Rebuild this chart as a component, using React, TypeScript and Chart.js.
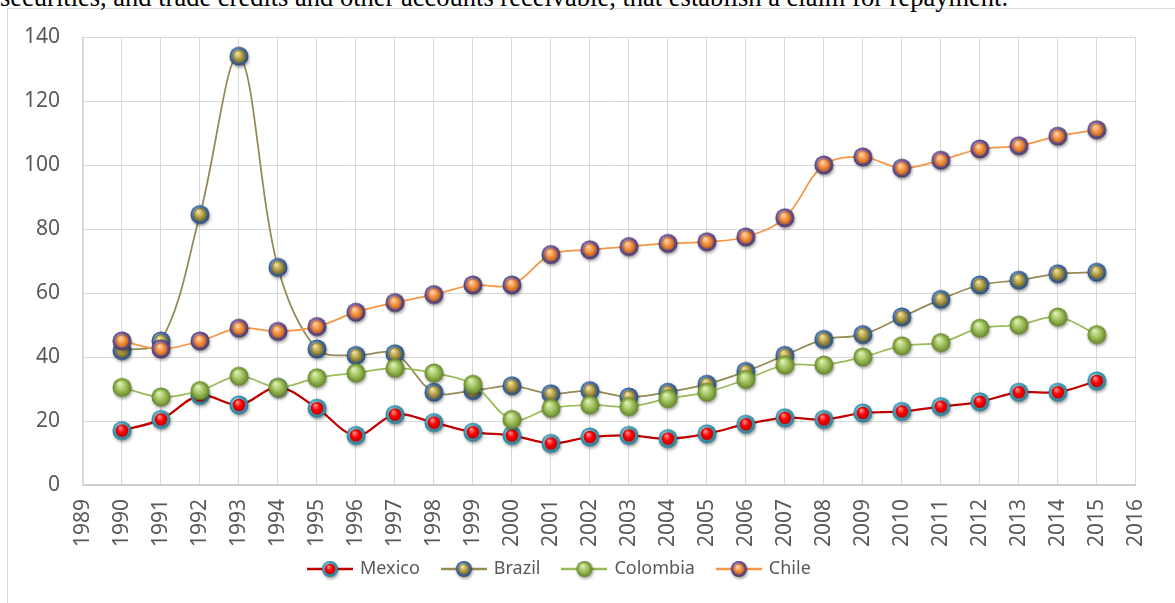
import React, { useEffect, useRef } from 'react';
import { Chart, registerables } from 'chart.js';

Chart.register(...registerables);

const years = [1990, 1991, 1992, 1993, 1994, 1995, 1996, 1997, 1998, 1999, 2000, 2001, 2002, 2003, 2004, 2005, 2006, 2007, 2008, 2009, 2010, 2011, 2012, 2013, 2014, 2015];
const mexico = [17, 20.5, 28, 25, 30.5, 24, 15.5, 22, 19.5, 16.5, 15.5, 13, 15, 15.5, 14.5, 16, 19, 21, 20.5, 22.5, 23, 24.5, 26, 29, 29, 32.5];
const brazil = [42, 45, 84.5, 134, 68, 42.5, 40.5, 41, 29, 29.5, 31, 28.5, 29.5, 27.5, 29, 31.5, 35.5, 40.5, 45.5, 47, 52.5, 58, 62.5, 64, 66, 66.5];
const colombia = [30.5, 27.5, 29.5, 34, 30.5, 33.5, 35, 36.5, 35, 31.5, 20.5, 24, 25, 24.5, 27, 29, 33, 37.5, 37.5, 40, 43.5, 44.5, 49, 50, 52.5, 47];
const chile = [45, 42.5, 45, 49, 48, 49.5, 54, 57, 59.5, 62.5, 62.5, 72, 73.5, 74.5, 75.5, 76, 77.5, 83.5, 100, 102.5, 99, 101.5, 105, 106, 109, 111];
const seriesNames = ['Mexico', 'Brazil', 'Colombia', 'Chile'];
const xMin = 1989;
const xMax = 2016;
const yMin = 0;
const yMax = 140;
const yStep = 20;
const caption = 'securities, and trade credits and other accounts receivable, that establish a claim for repayment.';

type Look = { line: string; rim: string[]; core: string[]; coreR: number; width: number };
const looks: Look[] = [
  { line: '#c00000', rim: ['#bfe6f0', '#4bacc6', '#2b7a90'], core: ['#ff9a9a', '#ff0000', '#c00000'], coreR: 6, width: 2.25 },
  { line: '#948a54', rim: ['#a9c3e6', '#4f81bd', '#2a4a72'], core: ['#f3e7a6', '#b9a650', '#756628'], coreR: 6.3, width: 1.75 },
  { line: '#9bbb59', rim: ['#d3eaa0', '#9bbb59', '#62802a'], core: ['#e3f2bd', '#a5c563', '#6f9130'], coreR: 8, width: 1.75 },
  { line: '#f79646', rim: ['#b39ed0', '#8064a2', '#4a3763'], core: ['#fddcb8', '#f79646', '#c9651b'], coreR: 6, width: 1.75 },
];

function drawBall(ctx: CanvasRenderingContext2D, cx: number, cy: number, r: number, lk: Look) {
  ctx.save();
  ctx.shadowColor = 'rgba(0,0,0,0.35)';
  ctx.shadowBlur = 3;
  ctx.shadowOffsetX = 1;
  ctx.shadowOffsetY = 2;
  const g = ctx.createRadialGradient(cx - r * 0.35, cy - r * 0.45, 0.5, cx, cy, r);
  g.addColorStop(0, lk.rim[0]);
  g.addColorStop(0.6, lk.rim[1]);
  g.addColorStop(1, lk.rim[2]);
  ctx.fillStyle = g;
  ctx.beginPath();
  ctx.arc(cx, cy, r, 0, Math.PI * 2);
  ctx.fill();
  ctx.restore();
  const cr = lk.coreR * (r / 9);
  const g2 = ctx.createRadialGradient(cx - cr * 0.3, cy - cr * 0.5, 0.3, cx, cy, cr);
  g2.addColorStop(0, lk.core[0]);
  g2.addColorStop(0.55, lk.core[1]);
  g2.addColorStop(1, lk.core[2]);
  ctx.fillStyle = g2;
  ctx.beginPath();
  ctx.arc(cx, cy, cr, 0, Math.PI * 2);
  ctx.fill();
}

function makeMarker(lk: Look) {
  const c = document.createElement('canvas');
  c.width = 30;
  c.height = 30;
  const ctx = c.getContext('2d')!;
  drawBall(ctx, 15, 15, 9.5, lk);
  return c;
}

function makeLegendIcon(lk: Look) {
  const c = document.createElement('canvas');
  c.width = 46;
  c.height = 24;
  const ctx = c.getContext('2d')!;
  ctx.strokeStyle = lk.line;
  ctx.lineWidth = 2.5;
  ctx.beginPath();
  ctx.moveTo(0, 12);
  ctx.lineTo(46, 12);
  ctx.stroke();
  drawBall(ctx, 23, 12, 8, lk);
  return c;
}

const LEG_LEFT = 286;
const LEG_TOP = 537;
const PLOT_LEFT = 83;
const PLOT_BOTTOM = 485;

export default function App() {
  const ref = useRef<HTMLCanvasElement | null>(null);

  useEffect(() => {
    if (!ref.current) return;
    const allSeries = [mexico, brazil, colombia, chile];
    const markers = looks.map(makeMarker);
    const icons = looks.map(makeLegendIcon);

    const legendShift = {
      id: 'legendShift',
      afterLayout(chart: any) {
        const lg = chart.legend;
        if (!lg) return;
        const h = lg.height;
        lg.left = LEG_LEFT;
        lg.right = LEG_LEFT + 2000;
        lg.top = LEG_TOP;
        lg.bottom = LEG_TOP + h;
      },
    };

    const tickFont = { family: '"Noto Sans", "Open Sans", sans-serif', size: 21 };

    const chart = new Chart(ref.current, {
      type: 'line',
      data: {
        datasets: allSeries.map((arr, i) => ({
          label: seriesNames[i],
          data: years.map((x, j) => ({ x, y: arr[j] })),
          borderColor: looks[i].line,
          backgroundColor: looks[i].line,
          borderWidth: looks[i].width,
          tension: 0.35,
          pointStyle: markers[i] as any,
          pointRadius: 9,
          pointHoverRadius: 9,
          clip: false as any,
          order: 4 - i,
        })),
      },
      options: {
        responsive: false,
        animation: false,
        layout: { padding: { left: 0, right: 39, top: 37, bottom: 0 } },
        plugins: {
          tooltip: { enabled: false },
          legend: {
            position: 'bottom',
            align: 'start',
            labels: {
              usePointStyle: true,
              pointStyleWidth: 42,
              padding: 23,
              color: '#595959',
              font: { family: '"Noto Sans", "Open Sans", sans-serif', size: 18 },
              sort: (a: any, b: any) => a.datasetIndex - b.datasetIndex,
              generateLabels: (c: any) => {
                const items = (Chart.defaults.plugins.legend.labels as any).generateLabels(c);
                return items.map((it: any) => ({ ...it, pointStyle: icons[it.datasetIndex] }));
              },
            },
          },
        },
        scales: {
          x: {
            type: 'linear',
            min: xMin,
            max: xMax,
            ticks: {
              stepSize: 1,
              autoSkip: false,
              minRotation: 90,
              maxRotation: 90,
              padding: 14,
              color: '#595959',
              font: tickFont,
              callback: (v: any) => String(v),
            },
            grid: { color: '#d9d9d9', lineWidth: 1, drawTicks: false },
            border: { color: '#cfcfcf', width: 2 },
            afterFit: (s: any) => {
              const lg = s.chart.legend;
              const lh = lg ? lg.height : 0;
              s.height = s.chart.height - lh - PLOT_BOTTOM;
            },
          },
          y: {
            min: yMin,
            max: yMax,
            ticks: {
              stepSize: yStep,
              padding: 23,
              color: '#595959',
              font: tickFont,
            },
            grid: { color: '#d9d9d9', lineWidth: 1, drawTicks: false },
            border: { color: '#d9d9d9', width: 1.5 },
            afterFit: (s: any) => {
              s.width = PLOT_LEFT;
            },
          },
        },
      } as any,
      plugins: [legendShift],
    });
    return () => chart.destroy();
  }, []);

  return (
    <div style={{ position: 'fixed', left: 0, top: 0, width: 1175, height: 603, overflow: 'hidden', background: '#fff' }}>
      <div
        style={{
          position: 'absolute',
          left: 7,
          top: 8,
          width: 1300,
          height: 800,
          border: '1.5px solid #d9d9d9',
          boxSizing: 'border-box',
        }}
      />
      <div
        style={{
          position: 'absolute',
          left: 0,
          top: -16,
          fontFamily: '"Liberation Serif", "Times New Roman", serif',
          fontSize: 26.5,
          lineHeight: '26.5px',
          color: '#000',
          whiteSpace: 'nowrap',
        }}
      >
        {caption}
      </div>
      <canvas ref={ref} width={1175} height={603} style={{ position: 'absolute', left: 0, top: 0 }} />
    </div>
  );
}
